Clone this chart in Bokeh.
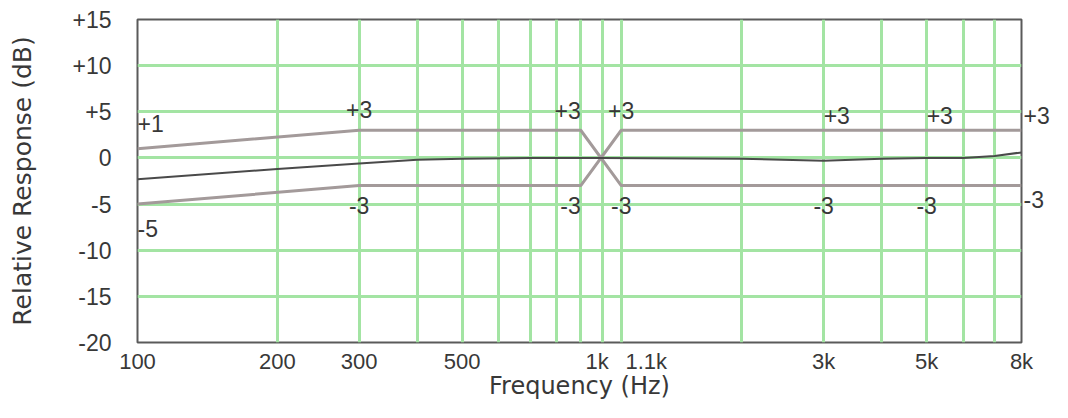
import math
from bokeh.plotting import figure
from bokeh.models import FixedTicker, Label, LinearAxis
from bokeh.embed import file_html
from bokeh.resources import INLINE

# ---- data ----
resp_freq = [100, 200, 300, 400, 500, 700, 1000, 2000, 3000, 4000, 5000, 6000, 7000, 8000]
resp_db = [-2.3, -1.2, -0.6, -0.2, -0.1, 0.0, 0.0, -0.1, -0.3, -0.1, 0.0, 0.0, 0.2, 0.6]

upper_freq = [100, 300, 900, 1100, 8000]
upper_db = [1, 3, 3, -3, -3]
lower_freq = [100, 300, 900, 1100, 8000]
lower_db = [-5, -3, -3, 3, 3]

x_tick_values = [100, 200, 300, 500, 1000, 1100, 3000, 5000, 8000]
x_tick_labels = ["100", "200", "300", "500", "1k", "1.1k", "3k", "5k", "8k"]
x_grid_values = [100, 200, 300, 400, 500, 600, 700, 800, 900, 1000, 1100,
                 2000, 3000, 4000, 5000, 6000, 7000, 8000]
y_tick_values = [-20, -15, -10, -5, 0, 5, 10, 15]
y_tick_labels = ["-20", "-15", "-10", "-5", "0", "+5", "+10", "+15"]
y_grid_values = [-15, -10, -5, 0, 5, 10]

ann_freq = [100, 100, 300, 300, 900, 900, 1100, 1100, 3000, 3000, 5000, 5000]
ann_db = [3.7, -7.7, 5.3, -5.2, 5.1, -5.2, 5.1, -5.2, 4.6, -5.2, 4.6, -5.2]
ann_text = ["+1", "-5", "+3", "-3", "+3", "-3", "+3", "-3", "+3", "-3", "+3", "-3"]
edge_db = [4.6, -4.5]          # labels at the 8k edge
edge_text = ["+3", "-3"]

# ---- layout / style ----
W, H = 1052, 402
B_LEFT, B_RIGHT, B_TOP, B_BOTTOM = 137, 30, 19, 58
FONT = "Liberation Sans"
TFONT = "DejaVu Sans"
TXT = "#383838"
GRID = "#a3e4a3"
LIMIT = "#a39a9a"

X0, X1 = 100, 8000
px_per_dec = (W - B_LEFT - B_RIGHT) / math.log10(X1 / X0)
label_nudge_px = {1000: -5, 1100: 25}     # keep 1k / 1.1k labels apart
tick_pos = [v * 10 ** (label_nudge_px.get(v, 0) / px_per_dec) for v in x_tick_values]

p = figure(width=W, height=H, x_axis_type="log",
           x_range=(X0, X1), y_range=(-20, 15),
           output_backend="svg", toolbar_location=None,
           min_border_left=B_LEFT, min_border_right=B_RIGHT,
           min_border_top=B_TOP, min_border_bottom=B_BOTTOM,
           x_axis_label="Frequency (Hz)", y_axis_label="Relative Response (dB)")
p.background_fill_color = "white"
p.border_fill_color = "white"
p.outline_line_color = "#5a5a5a"
p.outline_line_width = 2

p.xgrid.ticker = FixedTicker(ticks=x_grid_values)
p.ygrid.ticker = FixedTicker(ticks=y_grid_values)
for g in (p.xgrid, p.ygrid):
    g.grid_line_color = GRID
    g.grid_line_width = 3
    g.grid_line_alpha = 1.0

p.xaxis.ticker = FixedTicker(ticks=tick_pos)
p.xaxis.major_label_overrides = {v: t for v, t in zip(tick_pos, x_tick_labels)}
p.yaxis.ticker = FixedTicker(ticks=y_tick_values)
p.yaxis.major_label_overrides = {v: t for v, t in zip(y_tick_values, y_tick_labels)}

right_axis = LinearAxis(ticker=FixedTicker(ticks=edge_db),
                        major_label_overrides={v: t for v, t in zip(edge_db, edge_text)})
p.add_layout(right_axis, "right")

for ax in (p.xaxis[0], p.yaxis[0], right_axis):
    ax.axis_line_color = None
    ax.major_tick_line_color = None
    ax.minor_tick_line_color = None
    ax.major_tick_out = 0
    ax.major_tick_in = 0
    ax.major_label_text_font = FONT
    ax.major_label_text_font_size = "23px"
    ax.major_label_text_color = TXT
    ax.axis_label_text_font = TFONT
    ax.axis_label_text_font_size = "25px"
    ax.axis_label_text_font_style = "normal"
    ax.axis_label_text_color = TXT

p.xaxis.major_label_text_font_size = "22px"
p.xaxis.axis_label_text_font_size = "24px"
p.xaxis.major_label_standoff = 6
p.xaxis.axis_label_standoff = -5
p.yaxis.major_label_standoff = 26
p.yaxis.axis_label_standoff = 32
right_axis.major_label_standoff = 2

# limit lines and response
p.line(upper_freq, upper_db, line_color=LIMIT, line_width=3)
p.line(lower_freq, lower_db, line_color=LIMIT, line_width=3)
p.line(resp_freq, resp_db, line_color="#4a4a4a", line_width=2)

aligns = ["left", "left", "center", "center", "right", "right", "center", "center",
          "left", "center", "left", "center"]
for f, d, t, a in zip(ann_freq, ann_db, ann_text, aligns):
    p.add_layout(Label(x=f, y=d, text=t, text_align=a, text_baseline="middle",
                       text_font=FONT, text_font_size="23px", text_color=TXT))

open("out.html", "w").write(file_html(p, INLINE))
